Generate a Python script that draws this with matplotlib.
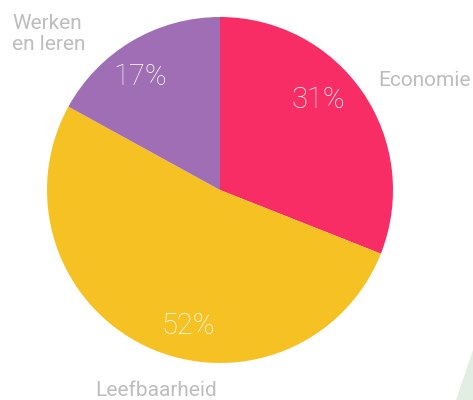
import matplotlib.pyplot as plt
from matplotlib.patches import Polygon

categories = ["Economie", "Leefbaarheid", "Werken\nen leren"]
shares = [31, 52, 17]
colors = ["#F92D65", "#F6C223", "#A06EB5"]

W, H = 473, 400
# pixel positions (x, y from top) for labels and percentages
cat_pos = [(378, 80, "left"), (95, 390, "left"), (12, 34, "left")]
pct_pos = [(318, 100), (188, 326), (140, 77)]

fig = plt.figure(figsize=(W / 100, H / 100), dpi=100)
ax = fig.add_axes([0, 0, 1, 1])

# faint decorative triangle in the corner
ax.add_patch(Polygon([(473, H - 350), (456, 0), (473, 0)], closed=True,
                     facecolor="#E1EEE1", edgecolor="none", zorder=0))

ax.pie(shares, colors=colors, startangle=90, counterclock=False,
       center=(220, H - 190), radius=173, frame=True,
       wedgeprops=dict(linewidth=0))
ax.set_xlim(0, W)
ax.set_ylim(0, H)
ax.set_aspect("equal")
ax.axis("off")

for name, (x, y, ha) in zip(categories, cat_pos):
    ax.text(x, H - y, name, ha=ha, va="center", fontsize=15,
            color="#BDBDBD", family="Roboto", linespacing=1.1)

for val, (x, y) in zip(shares, pct_pos):
    ax.text(x, H - y, f"{val}%", ha="center", va="center", fontsize=21,
            color="white", family="Roboto", weight="light")

fig.savefig("out.png", dpi=100)
